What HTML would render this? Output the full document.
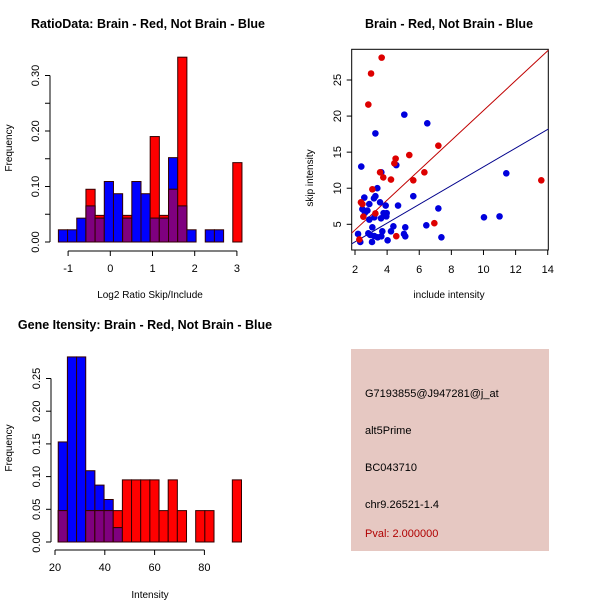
<!DOCTYPE html>
<html><head><meta charset="utf-8"><style>
html,body{margin:0;padding:0;background:#fff;}
svg{display:block;font-family:"Liberation Sans",Arial,sans-serif;}
</style></head><body>
<svg id="chart" width="600" height="600" viewBox="0 0 600 600" xmlns="http://www.w3.org/2000/svg">
<rect x="0" y="0" width="600" height="600" fill="#fff"/>
<g id="p1"></g>
<g id="p2"></g>
<g id="p3"></g>
<g>
<rect x="351" y="349" width="198" height="202" fill="#e6c8c2"/>
<text x="365" y="397" font-size="11" fill="#000">G7193855@J947281@j_at</text>
<text x="365" y="434" font-size="11" fill="#000">alt5Prime</text>
<text x="365" y="471" font-size="11" fill="#000">BC043710</text>
<text x="365" y="508" font-size="11" fill="#000">chr9.26521-1.4</text>
<text x="365" y="537" font-size="11" fill="#b00000">Pval: 2.000000</text>
</g>
</svg>
<script>
const NS="http://www.w3.org/2000/svg";
// Ratio histogram data
const ratioBinStart=-1.23, ratioBinWidth=0.2175;
const ratioBlue=[0.022,0.022,0.043,0.065,0.043,0.109,0.087,0.043,0.109,0.087,0.043,0.043,0.152,0.065,0.022,0,0.022,0.022,0,0];
const ratioRed=[0,0,0,0.095,0.048,0,0,0.048,0,0,0.19,0.048,0.095,0.333,0,0,0,0,0,0.143];
const ratioXTicks=[-1,0,1,2,3];
const ratioYTicks=[0,0.05,0.10,0.15,0.20,0.25,0.30];
const ratioYLabels=["0.00","","0.10","","0.20","","0.30"];
// Gene intensity histogram data
const intBinStart=21.3, intBinWidth=3.68;
const intBlue=[0.153,0.283,0.283,0.109,0.087,0.065,0.022,0,0,0,0,0,0,0,0,0,0,0,0,0];
const intRed=[0.048,0,0,0.048,0.048,0.048,0.048,0.095,0.095,0.095,0.095,0.048,0.095,0.048,0,0.048,0.048,0,0,0.095];
const intXTicks=[20,40,60,80];
const intYTicks=[0,0.05,0.10,0.15,0.20,0.25];
const intYLabels=["0.00","0.05","0.10","0.15","0.20","0.25"];
// Scatter data
const redX=[3.66,3.0,2.83,7.19,5.38,4.53,4.45,3.56,6.32,3.76,4.24,5.63,13.6,3.08,2.37,2.46,2.52,3.27,6.94,4.57,2.27];
const redY=[28.1,25.9,21.6,15.9,14.6,14.1,13.45,12.2,12.2,11.5,11.2,11.1,11.1,9.85,8.05,7.8,6.06,6.5,5.15,3.35,2.9];
const blueX=[5.07,6.5,3.27,2.39,4.57,3.64,3.39,2.58,3.27,3.18,5.63,2.89,3.56,3.91,4.68,2.46,2.77,2.62,3.78,3.97,3.95,3.2,3.62,2.89,7.19,10.03,11.0,11.42,6.44,4.39,5.13,3.08,2.19,2.83,2.95,3.7,4.24,5.05,5.13,3.64,3.41,7.38,4.03,2.33,3.06,3.2];
const blueY=[20.2,19.0,17.6,13.0,13.2,12.2,10.0,8.7,8.9,8.6,8.9,7.8,8.05,7.6,7.6,7.1,6.9,6.6,6.55,6.55,6.1,5.97,5.83,5.65,7.2,5.97,6.1,12.07,4.86,4.72,4.58,4.58,3.66,3.75,3.52,4.03,4.03,3.66,3.34,3.34,3.2,3.2,2.78,2.55,2.55,3.38];
const redFit=[0.07,2.07];   // intercept, slope
const blueFit=[-0.04,1.30];
const scXTicks=[2,4,6,8,10,12,14];
const scYTicks=[5,10,15,20,25];

function mk(parent,tag,attrs,text){const e=document.createElementNS(NS,tag);for(const k in attrs)e.setAttribute(k,attrs[k]);if(text!==undefined)e.textContent=text;parent.appendChild(e);return e;}

function hist(g,o){
  const sx=v=>o.x0+(v-o.xv0)*o.kx, sy=v=>o.y0-v*o.ky;
  mk(g,"text",{x:o.tx,y:o.ty,"font-size":12.5,"font-weight":"bold","text-anchor":"middle"},o.title);
  for(let i=0;i<o.blue.length;i++){
    const a=o.bs+i*o.bw, xl=sx(a), w=o.bw*o.kx, b=o.blue[i], r=o.red[i];
    const bars=[[b,"#0000ff","blue"],[r,"#ff0000","red"]].sort((p,q)=>q[0]-p[0]);
    for(const [v,c,n] of bars){ if(v>0){
      const e=mk(g,"rect",{x:xl,y:sy(v),width:w,height:v*o.ky,fill:c,stroke:"#300","stroke-width":1});
      
      }}
    const m=Math.min(b,r);
    if(m>0){const e=mk(g,"rect",{x:xl,y:sy(m),width:w,height:m*o.ky,fill:"#7f007f",stroke:"#300","stroke-width":1});
      
      }
  }
  const ya=o.yTicks;
  mk(g,"line",{x1:o.yax,x2:o.yax,y1:sy(ya[0]),y2:sy(ya[ya.length-1]),stroke:"#000"});
  ya.forEach((v,i)=>{mk(g,"line",{x1:o.yax-5,x2:o.yax,y1:sy(v),y2:sy(v),stroke:"#000"});
    if(o.yLabels[i]){const t=mk(g,"text",{x:o.yax-11,y:sy(v),"font-size":11,"text-anchor":"middle",transform:`rotate(-90 ${o.yax-11} ${sy(v)})`},o.yLabels[i]);
      }});
  const xt=o.xTicks;
  mk(g,"line",{x1:sx(xt[0]),x2:sx(xt[xt.length-1]),y1:o.xay,y2:o.xay,stroke:"#000"});
  xt.forEach(v=>{mk(g,"line",{x1:sx(v),x2:sx(v),y1:o.xay,y2:o.xay+5,stroke:"#000"});
    const t=mk(g,"text",{x:sx(v),y:o.xay+21,"font-size":11,"text-anchor":"middle"},String(v));
    });
  const xl=mk(g,"text",{x:o.xlx,y:o.xly,"font-size":10,"text-anchor":"middle"},o.xlabel);
  
  const yl=mk(g,"text",{x:12,y:o.yly,"font-size":10,"text-anchor":"middle",transform:`rotate(-90 12 ${o.yly})`},"Frequency");
  
}

hist(document.getElementById("p1"),{title:"RatioData: Brain - Red, Not Brain - Blue",tx:148,ty:28,
  x0:110.3,xv0:0,kx:42.2,y0:242,ky:555,bs:ratioBinStart,bw:ratioBinWidth,blue:ratioBlue,red:ratioRed,
  yTicks:ratioYTicks,yLabels:ratioYLabels,yax:50,xTicks:ratioXTicks,xay:251,xlabel:"Log2 Ratio Skip/Include",xlx:150,xly:298,yly:148});
hist(document.getElementById("p3"),{title:"Gene Itensity: Brain - Red, Not Brain - Blue",tx:145,ty:329,
  x0:55,xv0:20,kx:2.49,y0:542,ky:654,bs:intBinStart,bw:intBinWidth,blue:intBlue,red:intRed,
  yTicks:intYTicks,yLabels:intYLabels,yax:51,xTicks:intXTicks,xay:550,xlabel:"Intensity",xlx:150,xly:598,yly:448});

(function(){
  const g=document.getElementById("p2");
  const sx=v=>355+(v-2)*16.06, sy=v=>224.3-(v-5)*7.215;
  mk(g,"text",{x:449,y:28,"font-size":12.5,"font-weight":"bold","text-anchor":"middle"},"Brain - Red, Not Brain - Blue");
  mk(g,"rect",{x:351.7,y:49.3,width:196.6,height:200.7,fill:"none",stroke:"#000"});
  const cp=mk(g,"clipPath",{id:"clip"});mk(cp,"rect",{x:351.7,y:49.3,width:196.6,height:200.7});
  const lg=mk(g,"g",{"clip-path":"url(#clip)"});
  [[redFit,"#c00000","red-fit-line"],[blueFit,"#00008b","blue-fit-line"]].forEach(([f,c,n])=>{
    const e=mk(lg,"line",{x1:sx(1),y1:sy(f[0]+f[1]*1),x2:sx(15),y2:sy(f[0]+f[1]*15),stroke:c,"stroke-width":1});
    
    });
  blueX.forEach((x,i)=>{const e=mk(g,"circle",{cx:sx(x),cy:sy(blueY[i]),r:3.3,fill:"#0000dd"});
    
    });
  redX.forEach((x,i)=>{const e=mk(g,"circle",{cx:sx(x),cy:sy(redY[i]),r:3.3,fill:"#dd0000"});
    
    });
  scXTicks.forEach(v=>{mk(g,"line",{x1:sx(v),x2:sx(v),y1:250,y2:255,stroke:"#000"});
    const t=mk(g,"text",{x:sx(v),y:273,"font-size":11,"text-anchor":"middle"},String(v));
    });
  scYTicks.forEach(v=>{mk(g,"line",{x1:346.7,x2:351.7,y1:sy(v),y2:sy(v),stroke:"#000"});
    const t=mk(g,"text",{x:341,y:sy(v),"font-size":11,"text-anchor":"middle",transform:`rotate(-90 341 ${sy(v)})`},String(v));
    });
  mk(g,"text",{x:449,y:298,"font-size":10,"text-anchor":"middle"},"include intensity");
  mk(g,"text",{x:313,y:178,"font-size":10,"text-anchor":"middle",transform:"rotate(-90 313 178)"},"skip intensity");
})();
</script>
</body></html>
